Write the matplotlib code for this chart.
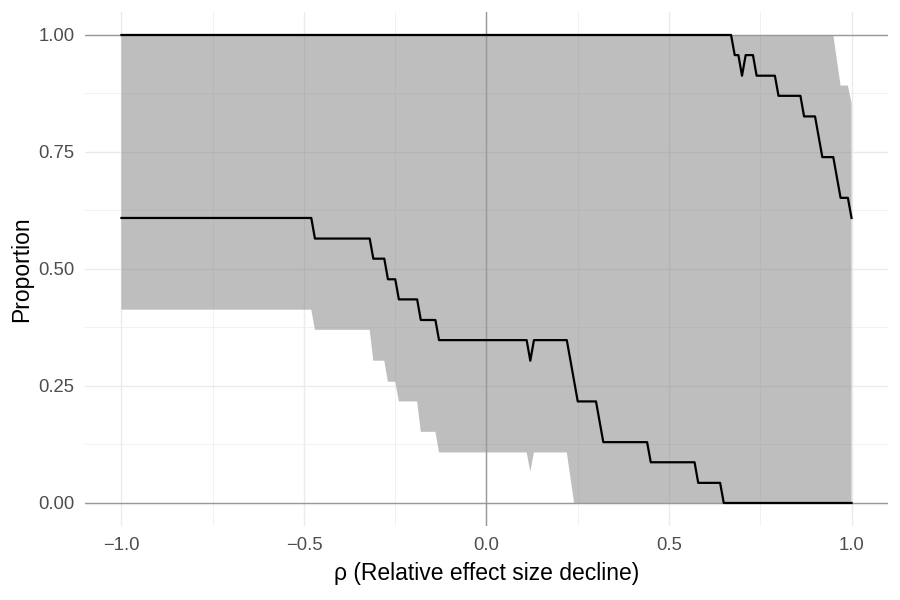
import numpy as np
import matplotlib.pyplot as plt

plt.rcParams['font.family'] = ['Liberation Sans', 'DejaVu Sans']

# lower proportion curve (vertices)
rho_low = [-1.0, -0.48, -0.47, -0.32, -0.31, -0.28, -0.27, -0.25, -0.24, -0.19,
           -0.18, -0.14, -0.13, 0.11, 0.12, 0.13, 0.22, 0.25, 0.30, 0.32,
           0.44, 0.45, 0.57, 0.58, 0.64, 0.65, 1.0]
prop_low = [0.609, 0.609, 0.565, 0.565, 0.522, 0.522, 0.478, 0.478, 0.435, 0.435,
            0.391, 0.391, 0.348, 0.348, 0.304, 0.348, 0.348, 0.217, 0.217, 0.130,
            0.130, 0.087, 0.087, 0.043, 0.043, 0.0, 0.0]

# upper proportion curve
rho_high = [-1.0, 0.67, 0.68, 0.69, 0.70, 0.71, 0.73, 0.74, 0.79, 0.80,
            0.86, 0.87, 0.90, 0.92, 0.95, 0.97, 0.99, 1.0]
prop_high = [1.0, 1.0, 0.957, 0.957, 0.913, 0.957, 0.957, 0.913, 0.913, 0.870,
             0.870, 0.826, 0.826, 0.739, 0.739, 0.652, 0.652, 0.609]

# uncertainty band: top edge and bottom edge
band_top_rho = [-1.0, 0.95, 0.97, 0.99, 1.0]
band_top = [1.0, 1.0, 0.892, 0.892, 0.855]
band_bot_rho = [-1.0, -0.48, -0.47, -0.32, -0.31, -0.28, -0.27, -0.25, -0.24, -0.19,
                -0.18, -0.14, -0.13, 0.11, 0.12, 0.13, 0.22, 0.24, 1.0]
band_bot = [0.413, 0.413, 0.370, 0.370, 0.304, 0.304, 0.259, 0.259, 0.217, 0.217,
            0.152, 0.152, 0.108, 0.108, 0.067, 0.108, 0.108, 0.0, 0.0]

x_ticks = [-1.0, -0.5, 0.0, 0.5, 1.0]
y_ticks = [0.0, 0.25, 0.50, 0.75, 1.00]

fig = plt.figure(figsize=(9, 6), dpi=100)
ax = fig.add_axes([0.0944, 0.1227, 0.8923, 0.858])

# ggplot minimal-style grid
for v in [-0.75, -0.25, 0.25, 0.75]:
    ax.axvline(v, color='#ebebeb', lw=0.5, zorder=0)
for v in [0.125, 0.375, 0.625, 0.875]:
    ax.axhline(v, color='#ebebeb', lw=0.5, zorder=0)
for v in x_ticks:
    ax.axvline(v, color='#ebebeb', lw=1.0, zorder=0)
for v in y_ticks:
    ax.axhline(v, color='#ebebeb', lw=1.0, zorder=0)

poly_x = np.concatenate([band_top_rho, band_bot_rho[::-1]])
poly_y = np.concatenate([band_top, band_bot[::-1]])
ax.fill(poly_x, poly_y, color='#7f7f7f', alpha=0.5, lw=0, zorder=1)

ax.axhline(0, color='#999999', lw=1.0, zorder=2)
ax.axhline(1, color='#999999', lw=1.0, zorder=2)
ax.axvline(0, color='#999999', lw=1.0, zorder=2)

ax.plot(rho_low, prop_low, color='black', lw=1.6, zorder=3)
ax.plot(rho_high, prop_high, color='black', lw=1.6, zorder=3)

ax.set_xlim(-1.1, 1.1)
ax.set_ylim(-0.05, 1.05)
ax.set_xticks(x_ticks)
ax.set_xticklabels(['\u22121.0', '\u22120.5', '0.0', '0.5', '1.0'])
ax.set_yticks(y_ticks)
ax.set_yticklabels(['0.00', '0.25', '0.50', '0.75', '1.00'])
ax.tick_params(length=0, labelsize=13.3, colors='#4d4d4d', pad=7.5)
for s in ax.spines.values():
    s.set_visible(False)

ax.set_xlabel('\u03c1 (Relative effect size decline)', fontsize=16.5, labelpad=6)
ax.set_ylabel('Proportion', fontsize=16.5, labelpad=4)

fig.savefig('out.png', dpi=100)
